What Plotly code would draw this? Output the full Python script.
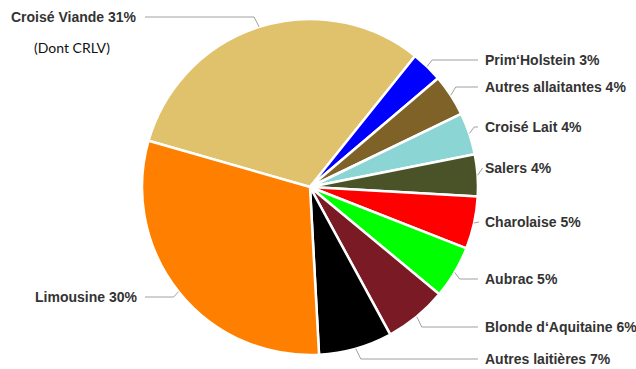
import math
import plotly.graph_objects as go

# ---- data ----
categories = ["Croisé Viande", "Prim'Holstein", "Autres allaitantes", "Croisé Lait", "Salers",
              "Charolaise", "Aubrac", "Blonde d'Aquitaine", "Autres laitières", "Limousine"]
label_texts = ["Croisé Viande 31%", "Prim‘Holstein 3%", "Autres allaitantes 4%", "Croisé Lait 4%",
               "Salers 4%", "Charolaise 5%", "Aubrac 5%", "Blonde d‘Aquitaine 6%",
               "Autres laitières 7%", "Limousine 30%"]
values = [31, 3, 4, 4, 4, 5, 5, 6, 7, 30]

# ---- styles / layout ----
colors = ["#E1C26C", "#0000FF", "#7F6228", "#8CD5D5", "#4A5328",
          "#FF0000", "#00FF00", "#7A1A24", "#000000", "#FF8000"]
W, H = 636, 369
cx, cy, R = 310, 187, 168          # pie centre / radius in pixels
rotation = -74                     # start angle of first slice (clockwise from 12 o'clock)
label_y = [17, 60, 87, 127, 168, 222, 279, 327, 359, 297]   # pixel y of label rows
right_x, left_x = 483, 139

fig = go.Figure(go.Pie(
    labels=categories, values=values, sort=False, direction="clockwise",
    rotation=rotation, textinfo="none", hoverinfo="label+percent",
    marker=dict(colors=colors, line=dict(color="white", width=2.5)),
    domain=dict(x=[(cx - R) / W, (cx + R) / W], y=[1 - (cy + R) / H, 1 - (cy - R) / H]),
    showlegend=False,
))

def px(x):
    return x / W

def py(y):
    return 1 - y / H

total = sum(values)
cum = 0
shapes, annotations = [], []
for i, v in enumerate(values):
    mid = math.radians(rotation + (cum + v / 2) / total * 360)
    cum += v
    ex, ey = cx + R * math.sin(mid), cy - R * math.cos(mid)
    right = math.sin(mid) >= 0
    s = 1 if right else -1
    ly = label_y[i]
    qx = ex + s * 5
    rx = (right_x - 5) if right else (left_x + 6)
    if right:
        rx = max(rx, qx)
    else:
        rx = min(rx, qx)
    lc = dict(color="#a0a0a0", width=1)
    shapes.append(dict(type="line", xref="paper", yref="paper",
                       x0=px(ex), y0=py(ey), x1=px(qx), y1=py(ly), line=lc))
    shapes.append(dict(type="line", xref="paper", yref="paper",
                       x0=px(qx), y0=py(ly), x1=px(rx), y1=py(ly), line=lc))
    annotations.append(dict(
        x=px(right_x if right else left_x), y=py(ly), xref="paper", yref="paper",
        text=label_texts[i], showarrow=False,
        xanchor="left" if right else "right", yanchor="middle",
        font=dict(family="Liberation Sans", size=14, color="#333333", weight="bold")))

annotations.append(dict(x=px(72), y=py(47), xref="paper", yref="paper",
                        text="(Dont CRLV)", showarrow=False, xanchor="center", yanchor="middle",
                        font=dict(family="Lato", size=14, color="#111111")))

fig.update_layout(width=W, height=H, margin=dict(l=0, r=0, t=0, b=0),
                  paper_bgcolor="white", plot_bgcolor="white",
                  shapes=shapes, annotations=annotations)
fig.write_html("out.html")
